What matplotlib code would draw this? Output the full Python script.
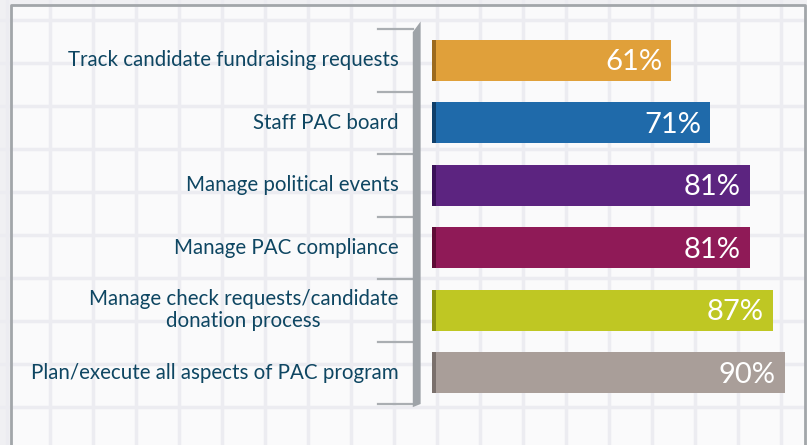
import matplotlib.pyplot as plt
import numpy as np
from matplotlib.patches import Rectangle, Polygon

plt.rcParams['font.family'] = ['Lato', 'DejaVu Sans']

labels = ["Track candidate fundraising requests",
          "Staff PAC board",
          "Manage political events",
          "Manage PAC compliance",
          "Manage check requests/candidate\ndonation process",
          "Plan/execute all aspects of PAC program"]
values = [61, 71, 81, 81, 87, 90]
colors = ["#E0A03A", "#1F6AAA", "#5C2480", "#8F1A57", "#BFC723", "#A99E99"]
edge_colors = ["#9C6A1E", "#0F3F6A", "#3A1058", "#5E0C36", "#8A9010", "#7A706C"]

W, H = 807, 445
fig = plt.figure(figsize=(W / 100, H / 100), dpi=100)

# grid paper background
bg = fig.add_axes([0, 0, 1, 1])
bg.set_xlim(0, W)
bg.set_ylim(H, 0)
bg.axis('off')
bg.add_patch(Rectangle((0, 0), W, H, color="#F0F0F3", zorder=0))
bg.add_patch(Rectangle((11, 5), 794, 445, facecolor="#FAFAFB", edgecolor="none", zorder=0.5))
for gx in np.arange(7, W, 43):
    bg.axvline(gx, color="#ECECF1", lw=2.5, zorder=1)
for gy in np.arange(20, H, 43):
    bg.axhline(gy, color="#ECECF1", lw=2.5, zorder=1)
bg.plot([11, 11, 805, 805], [H, 5, 5, H], color="#A2A6AA", lw=2, zorder=2)

# bar area
scale = 3.92
x0 = 432
top, bot = 29, 404
ax = fig.add_axes([x0 / W, 1 - bot / H, 1 - x0 / W, (bot - top) / H])
ax.set_xlim(0, (W - x0) / scale)
ax.set_ylim(5.5, -0.5)
ax.axis('off')

y = np.arange(len(values))
ax.barh(y, values, height=0.66, color=colors, zorder=3)
ax.barh(y, [0.9] * len(values), height=0.66, color=edge_colors, zorder=4)
for yi, v in zip(y, values):
    ax.text(v - 2.3, yi + 0.03, f"{v}%", color="white", fontsize=21,
            ha='right', va='center', zorder=5)

# axis post with 3d look
ax.add_patch(Polygon([(-4.9, 5.55), (-4.9, -0.45), (-2.9, -0.62), (-2.9, 5.5)],
                     closed=True, facecolor="#9EA3A8", edgecolor="none",
                     clip_on=False, zorder=3))
for b in np.arange(-0.5, 6, 1):
    ax.plot([-13.9, -4.9], [b, b], color="#AAAEB2", lw=1.6, clip_on=False, zorder=2)

for yi, lab in zip(y, labels):
    ax.text(-8.6, yi, lab, color="#0E4662", fontsize=14.8, ha='right',
            va='center', multialignment='center', linespacing=1.1)

fig.savefig("out.png", dpi=100)
